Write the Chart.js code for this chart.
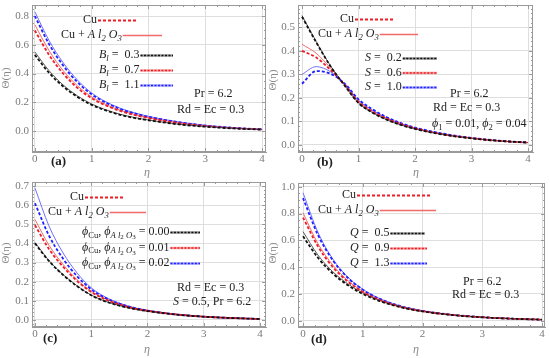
<!DOCTYPE html>
<html>
<head>
<meta charset="utf-8">
<script src="https://cdn.jsdelivr.net/npm/chart.js@4.4.0/dist/chart.umd.min.js"></script>
<style>
  body { margin: 0; background: #fff; width: 550px; height: 358px; position: relative; overflow: hidden; }
  canvas { position: absolute; }
</style>
</head>
<body>
<canvas id="pa" width="275" height="178" style="left:0px;top:0px"></canvas>
<canvas id="pb" width="285" height="178" style="left:265px;top:0px"></canvas>
<canvas id="pc" width="275" height="182" style="left:0px;top:176px"></canvas>
<canvas id="pd" width="285" height="182" style="left:265px;top:176px"></canvas>
<script>
// eta grid shared by every curve
const eta = [0, 0.25, 0.5, 0.75, 1, 1.25, 1.5, 1.75, 2, 2.5, 3, 3.5, 4];
const xTicks = [0, 1, 2, 3, 4];

// (a) B_l = 0.3 / 0.7 / 1.1
const aCu03 = [0.53, 0.405, 0.31, 0.237, 0.182, 0.143, 0.113, 0.091, 0.075, 0.048, 0.03, 0.018, 0.01];
const aHy03 = [0.55, 0.42, 0.32, 0.245, 0.188, 0.148, 0.117, 0.094, 0.077, 0.049, 0.031, 0.018, 0.01];
const aCu07 = [0.70, 0.53, 0.40, 0.30, 0.228, 0.178, 0.14, 0.112, 0.09, 0.057, 0.035, 0.02, 0.011];
const aHy07 = [0.74, 0.56, 0.42, 0.315, 0.238, 0.185, 0.145, 0.116, 0.093, 0.059, 0.036, 0.021, 0.011];
const aCu11 = [0.80, 0.605, 0.455, 0.34, 0.255, 0.197, 0.154, 0.123, 0.099, 0.063, 0.038, 0.022, 0.012];
const aHy11 = [0.83, 0.63, 0.475, 0.355, 0.265, 0.204, 0.159, 0.127, 0.102, 0.065, 0.04, 0.023, 0.012];
const aYTicks = [0, 0.2, 0.4, 0.6, 0.8];

// (b) S = 0.2 / 0.6 / 1.0
const bCu02 = [0.545, 0.437, 0.336, 0.254, 0.178, 0.137, 0.107, 0.085, 0.068, 0.044, 0.028, 0.017, 0.01];
const bHy02 = [0.55, 0.44, 0.338, 0.255, 0.178, 0.137, 0.107, 0.085, 0.068, 0.044, 0.028, 0.017, 0.01];
const bCu06 = [0.40, 0.372, 0.32, 0.257, 0.184, 0.142, 0.112, 0.089, 0.071, 0.045, 0.029, 0.017, 0.01];
const bHy06 = [0.428, 0.39, 0.328, 0.258, 0.183, 0.141, 0.111, 0.088, 0.07, 0.045, 0.029, 0.017, 0.01];
const bCu10 = [0.26, 0.314, 0.303, 0.262, 0.194, 0.151, 0.118, 0.093, 0.074, 0.048, 0.03, 0.018, 0.01];
const bHy10 = [0.30, 0.333, 0.312, 0.262, 0.19, 0.147, 0.115, 0.091, 0.072, 0.047, 0.029, 0.017, 0.01];
const bYTicks = [0, 0.1, 0.2, 0.3, 0.4, 0.5];

// (c) phi_Cu, phi_Al2O3 = 0.00 / 0.01 / 0.02
const cCu00 = [0.40, 0.307, 0.235, 0.176, 0.129, 0.097, 0.075, 0.058, 0.046, 0.028, 0.017, 0.01, 0.005];
const cHy00 = [0.405, 0.31, 0.237, 0.178, 0.13, 0.098, 0.075, 0.058, 0.046, 0.028, 0.017, 0.01, 0.005];
const cCu01 = [0.495, 0.37, 0.278, 0.203, 0.146, 0.108, 0.081, 0.061, 0.048, 0.029, 0.017, 0.01, 0.005];
const cHy01 = [0.525, 0.39, 0.29, 0.21, 0.15, 0.11, 0.082, 0.062, 0.048, 0.029, 0.017, 0.01, 0.005];
const cCu02 = [0.61, 0.44, 0.32, 0.228, 0.16, 0.115, 0.085, 0.064, 0.049, 0.029, 0.017, 0.01, 0.005];
const cHy02 = [0.69, 0.49, 0.35, 0.245, 0.168, 0.12, 0.088, 0.065, 0.05, 0.03, 0.017, 0.01, 0.005];
const cYTicks = [0, 0.1, 0.2, 0.3, 0.4, 0.5, 0.6, 0.7];

// (d) Q = 0.5 / 0.9 / 1.3
const dCu05 = [0.63, 0.47, 0.352, 0.265, 0.2, 0.152, 0.116, 0.089, 0.069, 0.042, 0.025, 0.015, 0.008];
const dHy05 = [0.665, 0.49, 0.365, 0.275, 0.208, 0.157, 0.119, 0.091, 0.07, 0.043, 0.026, 0.015, 0.008];
const dCu09 = [0.77, 0.555, 0.40, 0.292, 0.215, 0.16, 0.121, 0.092, 0.071, 0.043, 0.026, 0.015, 0.008];
const dHy09 = [0.805, 0.575, 0.415, 0.30, 0.22, 0.164, 0.123, 0.093, 0.072, 0.043, 0.026, 0.015, 0.008];
const dCu13 = [0.915, 0.64, 0.45, 0.32, 0.232, 0.17, 0.127, 0.095, 0.073, 0.044, 0.026, 0.015, 0.008];
const dHy13 = [0.955, 0.66, 0.46, 0.325, 0.235, 0.172, 0.128, 0.096, 0.074, 0.044, 0.026, 0.015, 0.008];
const dYTicks = [0, 0.2, 0.4, 0.6, 0.8, 1.0];

const COL = {
  k: { cu: '#111111', hy: '#555555', light: '#9a9a9a' },
  r: { cu: '#ee1c25', hy: '#f36a6a', light: '#f8a4a4' },
  b: { cu: '#1f1fff', hy: '#6f6fff', light: '#a9a9ff' }
};
const SERIF = '"Liberation Serif", "Times New Roman", serif';

function pts(arr) { return eta.map((x, i) => ({ x: x, y: arr[i] })); }

function pair(cu, hy, c) {
  return [
    { data: pts(cu), borderColor: COL[c].cu, borderWidth: 1.8, borderDash: [3, 2], order: 1 },
    { data: pts(hy), borderColor: COL[c].hy, borderWidth: 1, order: 2 }
  ];
}

// text helpers: runs of plain / italic / sub / subsub
const N = t => ({ t });
const I = t => ({ t, i: true });
const S = (t, i) => ({ t, s: 1, i });
const SS = (t, i) => ({ t, s: 2, i });
const B = t => ({ t, b: true });

function drawRuns(ctx, x, y, runs, size) {
  let cx = x;
  ctx.textBaseline = 'middle';
  ctx.textAlign = 'left';
  runs.forEach(r => {
    const lvl = r.s || 0;
    const fs = lvl === 1 ? size * 0.72 : lvl === 2 ? size * 0.58 : size;
    ctx.font = (r.i ? 'italic ' : '') + (r.b ? 'bold ' : '') + fs + 'px ' + SERIF;
    ctx.fillText(r.t, cx, y + (lvl === 1 ? 3.5 : lvl === 2 ? 5.5 : 0));
    cx += ctx.measureText(r.t).width;
  });
  return cx;
}

function sample(ctx, x1, x2, y, kind) {
  ctx.save();
  if (kind === 'cu') {
    ctx.strokeStyle = COL.r.cu; ctx.lineWidth = 2; ctx.setLineDash([3, 2]);
    ctx.beginPath(); ctx.moveTo(x1, y); ctx.lineTo(x2, y); ctx.stroke();
  } else if (kind === 'hy') {
    ctx.strokeStyle = COL.r.hy; ctx.lineWidth = 1.5;
    ctx.beginPath(); ctx.moveTo(x1, y); ctx.lineTo(x2, y); ctx.stroke();
  } else {
    ctx.strokeStyle = COL[kind].light; ctx.lineWidth = 2.5;
    ctx.beginPath(); ctx.moveTo(x1, y); ctx.lineTo(x2, y); ctx.stroke();
    ctx.strokeStyle = COL[kind].cu; ctx.lineWidth = 1.6; ctx.setLineDash([2, 1.5]);
    ctx.beginPath(); ctx.moveTo(x1, y); ctx.lineTo(x2, y); ctx.stroke();
  }
  ctx.restore();
}

const AL2O3 = [I('A '), I('l'), S('2', true), I(' O'), S('3', true)];
const PHI_AL = [I('\u03d5'), S('A ', true), S('l', true), SS('2'), S(' O', true), SS('3')];

const framePlugin = {
  id: 'frame',
  beforeDatasetsDraw(chart, args, o) {
    const { ctx, chartArea: a } = chart;
    const xs = chart.scales.x, ys = chart.scales.y;
    ctx.save();
    ctx.strokeStyle = '#9a9a9a';
    ctx.lineWidth = 1;
    ctx.strokeRect(a.left + 0.5, a.top + 0.5, a.right - a.left - 1, a.bottom - a.top - 1);
    ctx.beginPath();
    for (let v = 0; v <= 4.001; v += 0.2) {
      const px = Math.round(xs.getPixelForValue(v)) + 0.5;
      const len = Math.abs(v - Math.round(v)) < 1e-6 ? 4 : 2;
      ctx.moveTo(px, a.bottom); ctx.lineTo(px, a.bottom - len);
      ctx.moveTo(px, a.top); ctx.lineTo(px, a.top + len);
    }
    const step = o.yStep, minor = o.yStep / o.ySub;
    for (let v = Math.ceil(ys.min / minor) * minor; v <= ys.max; v += minor) {
      const py = Math.round(ys.getPixelForValue(v)) + 0.5;
      const k = v / step;
      const len = Math.abs(k - Math.round(k)) < 1e-6 ? 4 : 2;
      ctx.moveTo(a.left, py); ctx.lineTo(a.left + len, py);
      ctx.moveTo(a.right, py); ctx.lineTo(a.right - len, py);
    }
    ctx.stroke();
    ctx.restore();
  },
  afterDraw(chart, args, o) {
    const ctx = chart.ctx;
    ctx.save();
    // axis titles
    ctx.fillStyle = '#8a8a8a';
    ctx.font = 'italic 12px ' + SERIF;
    ctx.textAlign = 'center';
    ctx.textBaseline = 'middle';
    ctx.fillText('\u03b7', o.etaX, o.etaY);
    ctx.translate(o.thX, o.thY);
    ctx.rotate(-Math.PI / 2);
    ctx.font = '11px ' + SERIF;
    ctx.fillText('\u0398(\u03b7)', 0, 0);
    ctx.restore();

    ctx.save();
    ctx.fillStyle = '#222';
    o.labels.forEach(l => {
      const end = drawRuns(ctx, l.x, l.y, l.runs, l.size || 12);
      if (l.line) sample(ctx, end + 1, l.line[0], l.y + 0.5, l.line[1]);
    });
    ctx.restore();
  }
};

function makeChart(id, p) {
  new Chart(document.getElementById(id), {
    type: 'line',
    data: { datasets: p.datasets },
    plugins: [framePlugin],
    options: {
      responsive: false,
      animation: false,
      events: [],
      layout: { padding: { left: 0, right: p.padRight, top: p.padTop, bottom: 0 } },
      elements: {
        point: { radius: 0 },
        line: { cubicInterpolationMode: 'monotone', fill: false }
      },
      plugins: {
        legend: { display: false },
        tooltip: { enabled: false },
        frame: p.frame
      },
      scales: {
        x: {
          type: 'linear', min: p.xMin, max: p.xMax,
          afterBuildTicks: s => { s.ticks = xTicks.map(v => ({ value: v })); },
          afterFit: s => { s.height = p.xH; s.paddingLeft = 0; s.paddingRight = 0; },
          grid: { color: '#dedede', drawTicks: false },
          border: { color: '#9a9a9a' },
          ticks: { padding: 1, color: '#7a7a7a', font: { family: SERIF, size: 11 }, callback: v => String(v), maxRotation: 0 }
        },
        y: {
          type: 'linear', min: p.yMin, max: p.yMax,
          afterBuildTicks: s => { s.ticks = p.yTicks.map(v => ({ value: v })); },
          afterFit: s => { s.width = p.yW; s.paddingTop = 0; s.paddingBottom = 0; },
          grid: { color: '#dedede', drawTicks: false },
          border: { color: '#9a9a9a' },
          ticks: { padding: 3, color: '#7a7a7a', font: { family: SERIF, size: 11 }, callback: v => v.toFixed(1) }
        }
      }
    }
  });
}

makeChart('pa', {
  datasets: [...pair(aCu03, aHy03, 'k'), ...pair(aCu07, aHy07, 'r'), ...pair(aCu11, aHy11, 'b')],
  xMin: -0.05, xMax: 4.07, yMin: -0.146, yMax: 0.877, yTicks: aYTicks,
  padRight: 9, padTop: 5, xH: 26, yW: 32,
  frame: {
    yStep: 0.2, ySub: 4, etaX: 147, etaY: 173, thX: 6, thY: 78,
    labels: [
      { x: 83, y: 20, runs: [N('Cu')], line: [138, 'cu'] },
      { x: 61, y: 35, runs: [N('Cu + '), ...AL2O3], line: [162, 'hy'] },
      { x: 99, y: 55, runs: [I('B'), S('l', true), N(' =  0.3')], line: [173, 'k'] },
      { x: 99, y: 70, runs: [I('B'), S('l', true), N(' =  0.7')], line: [173, 'r'] },
      { x: 99, y: 85, runs: [I('B'), S('l', true), N(' =  1.1')], line: [173, 'b'] },
      { x: 194, y: 94, runs: [N('Pr = 6.2')] },
      { x: 177, y: 110, runs: [N('Rd = Ec = 0.3')] },
      { x: 51, y: 162, runs: [B('(a)')], size: 13 }
    ]
  }
});

makeChart('pb', {
  datasets: [...pair(bCu02, bHy02, 'k'), ...pair(bCu06, bHy06, 'r'), ...pair(bCu10, bHy10, 'b')],
  xMin: -0.071, xMax: 4.088, yMin: -0.03, yMax: 0.595, yTicks: bYTicks,
  padRight: 17, padTop: 5, xH: 26, yW: 33,
  frame: {
    yStep: 0.1, ySub: 5, etaX: 151, etaY: 173, thX: 8, thY: 80,
    labels: [
      { x: 75, y: 19, runs: [N('Cu')], line: [129, 'cu'] },
      { x: 53, y: 34, runs: [N('Cu + '), ...AL2O3], line: [153, 'hy'] },
      { x: 100, y: 58, runs: [I('S'), N(' =  0.2')], line: [172, 'k'] },
      { x: 100, y: 72.5, runs: [I('S'), N(' =  0.6')], line: [172, 'r'] },
      { x: 100, y: 87, runs: [I('S'), N(' =  1.0')], line: [172, 'b'] },
      { x: 185, y: 94, runs: [N('Pr = 6.2')] },
      { x: 168, y: 108, runs: [N('Rd = Ec = 0.3')] },
      { x: 167, y: 124, runs: [I('\u03d5'), S('1'), N(' = 0.01, '), I('\u03d5'), S('2'), N(' = 0.04')] },
      { x: 52, y: 163, runs: [B('(b)')], size: 13 }
    ]
  }
});

makeChart('pc', {
  datasets: [...pair(cCu00, cHy00, 'k'), ...pair(cCu01, cHy01, 'r'), ...pair(cCu02, cHy02, 'b')],
  xMin: -0.053, xMax: 4.107, yMin: -0.037, yMax: 0.721, yTicks: cYTicks,
  padRight: 9, padTop: 6, xH: 31, yW: 32,
  frame: {
    yStep: 0.1, ySub: 5, etaX: 147, etaY: 174, thX: 6, thY: 77,
    labels: [
      { x: 70, y: 21, runs: [N('Cu')], line: [125, 'cu'] },
      { x: 48, y: 36, runs: [N('Cu + '), ...AL2O3], line: [146, 'hy'] },
      { x: 82, y: 56, runs: [I('\u03d5'), S('Cu'), N(', '), ...PHI_AL, N(' = 0.00')], line: [200, 'k'] },
      { x: 82, y: 71.5, runs: [I('\u03d5'), S('Cu'), N(', '), ...PHI_AL, N(' = 0.01')], line: [200, 'r'] },
      { x: 82, y: 87, runs: [I('\u03d5'), S('Cu'), N(', '), ...PHI_AL, N(' = 0.02')], line: [200, 'b'] },
      { x: 177, y: 112, runs: [N('Rd = Ec = 0.3')] },
      { x: 173, y: 126, runs: [I('S'), N(' = 0.5, Pr = 6.2')] },
      { x: 43, y: 163, runs: [B('(c)')], size: 13 }
    ]
  }
});

makeChart('pd', {
  datasets: [...pair(dCu05, dHy05, 'k'), ...pair(dCu09, dHy09, 'r'), ...pair(dCu13, dHy13, 'b')],
  xMin: -0.084, xMax: 4.05, yMin: -0.047, yMax: 1.028, yTicks: dYTicks,
  padRight: 5, padTop: 7, xH: 31, yW: 33,
  frame: {
    yStep: 0.2, ySub: 4, etaX: 151, etaY: 174, thX: 8, thY: 77,
    labels: [
      { x: 77, y: 19, runs: [N('Cu')], line: [165, 'cu'] },
      { x: 53, y: 34, runs: [N('Cu + '), ...AL2O3], line: [171, 'hy'] },
      { x: 85, y: 57, runs: [I('Q'), N(' =  0.5')], line: [160, 'k'] },
      { x: 85, y: 72, runs: [I('Q'), N(' =  0.9')], line: [162, 'r'] },
      { x: 85, y: 87, runs: [I('Q'), N(' =  1.3')], line: [162, 'b'] },
      { x: 198, y: 106, runs: [N('Pr = 6.2')] },
      { x: 187, y: 119, runs: [N('Rd = Ec = 0.3')] },
      { x: 46, y: 164, runs: [B('(d)')], size: 13 }
    ]
  }
});
</script>
</body>
</html>
